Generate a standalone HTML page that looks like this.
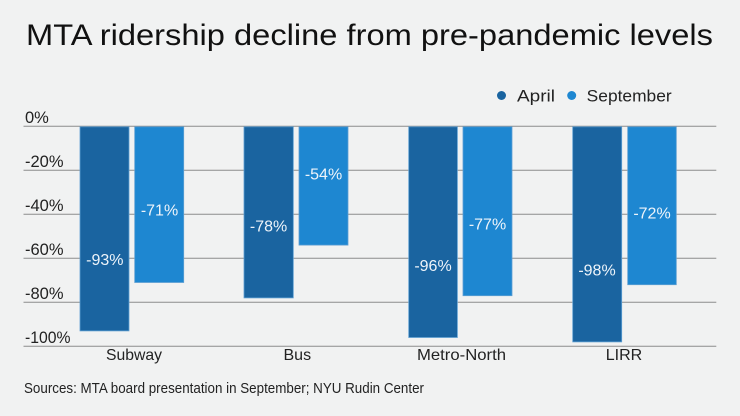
<!DOCTYPE html>
<html>
<head>
<meta charset="utf-8">
<style>
  html, body { margin: 0; padding: 0; background: #f1f2f2; }
  svg { display: block; }
  text { font-family: "Liberation Sans", "DejaVu Sans", sans-serif; }
</style>
</head>
<body>
<svg width="740" height="416" viewBox="0 0 740 416" xmlns="http://www.w3.org/2000/svg">
  <rect x="0" y="0" width="740" height="416" fill="#f1f2f2"/>

  <!-- Title -->
  <text x="26" y="45" font-size="30" fill="#111111" textLength="687" lengthAdjust="spacingAndGlyphs">MTA ridership decline from pre-pandemic levels</text>

  <!-- Legend -->
  <circle cx="501.5" cy="95.5" r="4.5" fill="#1a64a0"/>
  <text x="517" y="101.5" font-size="17" fill="#222222" textLength="38" lengthAdjust="spacingAndGlyphs">April</text>
  <circle cx="571.7" cy="95.5" r="4.5" fill="#1e87d1"/>
  <text x="586.7" y="101.5" font-size="17" fill="#222222" textLength="85" lengthAdjust="spacingAndGlyphs">September</text>

  <!-- Gridlines -->
  <g stroke="#8c8c8c" stroke-width="1">
    <line x1="23.5" y1="126.3" x2="716.3" y2="126.3"/>
    <line x1="23.5" y1="170.3" x2="716.3" y2="170.3"/>
    <line x1="23.5" y1="214.3" x2="716.3" y2="214.3"/>
    <line x1="23.5" y1="258.3" x2="716.3" y2="258.3"/>
    <line x1="23.5" y1="302.3" x2="716.3" y2="302.3"/>
    <line x1="23.5" y1="346.3" x2="716.3" y2="346.3"/>
  </g>

  <!-- Y labels -->
  <g font-size="16.5" fill="#222222">
    <text x="25" y="123">0%</text>
    <text x="25" y="167">-20%</text>
    <text x="25" y="211">-40%</text>
    <text x="25" y="255">-60%</text>
    <text x="25" y="299">-80%</text>
    <text x="25" y="343" textLength="45.5" lengthAdjust="spacingAndGlyphs">-100%</text>
  </g>

  <!-- Bars -->
  <g stroke="#5e9fd3" stroke-width="0.8">
    <rect x="80" y="126.8" width="49" height="204.1" fill="#1a64a0"/>
    <rect x="134.7" y="126.8" width="49" height="155.7" fill="#1e87d1"/>
    <rect x="244" y="126.8" width="49.3" height="171.1" fill="#1a64a0"/>
    <rect x="299" y="126.8" width="49" height="118.3" fill="#1e87d1"/>
    <rect x="408.7" y="126.8" width="48.7" height="210.7" fill="#1a64a0"/>
    <rect x="463" y="126.8" width="49" height="168.9" fill="#1e87d1"/>
    <rect x="572.7" y="126.8" width="49" height="215.1" fill="#1a64a0"/>
    <rect x="627.7" y="126.8" width="48.6" height="157.9" fill="#1e87d1"/>
  </g>

  <!-- Value labels -->
  <g font-size="16" fill="#eef4fa" text-anchor="middle">
    <text x="104.8" y="265">-93%</text>
    <text x="159.5" y="215.7">-71%</text>
    <text x="268.6" y="231.7">-78%</text>
    <text x="323.5" y="179.3">-54%</text>
    <text x="433" y="271">-96%</text>
    <text x="487.5" y="229.3">-77%</text>
    <text x="597" y="275.7">-98%</text>
    <text x="652" y="218.7">-72%</text>
  </g>

  <!-- Category labels -->
  <g font-size="16" fill="#222222" text-anchor="middle">
    <text x="134" y="360" textLength="56" lengthAdjust="spacingAndGlyphs">Subway</text>
    <text x="297.3" y="360">Bus</text>
    <text x="461.5" y="360" textLength="89" lengthAdjust="spacingAndGlyphs">Metro-North</text>
    <text x="624" y="360">LIRR</text>
  </g>

  <!-- Source -->
  <text x="24" y="393" font-size="15" fill="#222222" textLength="400" lengthAdjust="spacingAndGlyphs">Sources: MTA board presentation in September; NYU Rudin Center</text>
</svg>
</body>
</html>
